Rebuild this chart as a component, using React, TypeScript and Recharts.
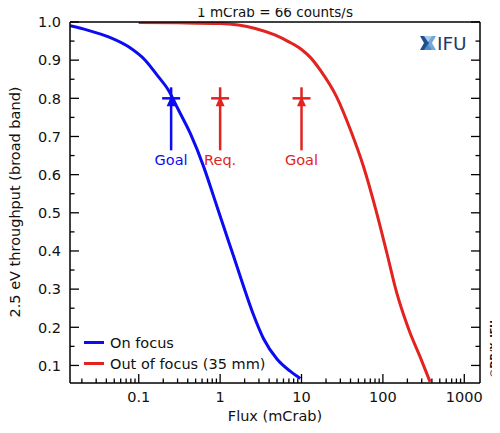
import React from "react";
import { ComposedChart, Line, XAxis, YAxis, ReferenceDot, Legend, Customized } from "recharts";

const onFocusFlux = [0.0143, 0.024, 0.0425, 0.075, 0.12, 0.175, 0.231, 0.307, 0.43, 0.627, 0.832, 1.104, 1.464, 1.942, 2.576, 3.418, 4.99, 7.26, 9.67];
const onFocusThroughput = [0.99, 0.978, 0.961, 0.935, 0.9, 0.856, 0.822, 0.77, 0.708, 0.621, 0.543, 0.464, 0.386, 0.307, 0.232, 0.17, 0.117, 0.085, 0.066];

const outFocusFlux = [0.1, 0.3, 1, 2.7, 4.7, 7, 10, 13, 17, 27, 40, 58, 84, 112, 148, 180, 216, 286, 380];
const outFocusThroughput = [0.999, 0.998, 0.996, 0.983, 0.966, 0.948, 0.928, 0.906, 0.874, 0.804, 0.717, 0.62, 0.499, 0.394, 0.29, 0.232, 0.185, 0.123, 0.057];

const markerFlux = [0.25, 1, 10];
const markerThroughput = [0.8, 0.8, 0.8];
const markerLabels = ["Goal", "Req.", "Goal"];
const markerSeries = ["on", "out", "out"];

const xMajorTicks = [0.1, 1, 10, 100, 1000];
const xMinorTicks = [
  0.02, 0.03, 0.04, 0.05, 0.06, 0.07, 0.08, 0.09,
  0.2, 0.3, 0.4, 0.5, 0.6, 0.7, 0.8, 0.9,
  2, 3, 4, 5, 6, 7, 8, 9,
  20, 30, 40, 50, 60, 70, 80, 90,
  200, 300, 400, 500, 600, 700, 800, 900,
];
const yMajorTicks = [0.1, 0.2, 0.3, 0.4, 0.5, 0.6, 0.7, 0.8, 0.9, 1.0];
const yMinorTicks = [0.15, 0.25, 0.35, 0.45, 0.55, 0.65, 0.75, 0.85, 0.95];

const titleText = "1 mCrab = 66 counts/s";
const xLabelText = "Flux (mCrab)";
const yLabelText = "2.5 eV throughput (broad band)";
const copyrightText = "\u00A9DB/X\u2013IFU";

const onFocusData = onFocusFlux.map((x, i) => ({ x, y: onFocusThroughput[i] }));
const outFocusData = outFocusFlux.map((x, i) => ({ x, y: outFocusThroughput[i] }));
const xAllTicks = [...xMajorTicks, ...xMinorTicks].sort((a, b) => a - b);
const yAllTicks = [...yMajorTicks, ...yMinorTicks].sort((a, b) => a - b);

const FONT = "'DejaVu Sans', sans-serif";
const BLUE = "#0c0cf2";
const RED = "#e2231f";
const COLORS: Record<string, string> = { on: BLUE, out: RED };
const xDomain = [0.0143, 1560];
const yDomain = [0.054, 1.0];
const axisLineStyle = { stroke: "#000", strokeWidth: 1.5 };

const BottomTick = (props: any) => {
  const { x, y, payload } = props;
  const major = xMajorTicks.includes(payload.value);
  return (
    <g>
      <line x1={x} x2={x} y1={y} y2={y - (major ? 9 : 4.5)} stroke="#000" strokeWidth={1.3} />
      {major && (
        <text x={x} y={y + 19} textAnchor="middle" fontSize={14.5} fontFamily={FONT} fill="#111">
          {String(payload.value)}
        </text>
      )}
    </g>
  );
};

const TopTick = (props: any) => {
  const { x, y, payload } = props;
  const major = xMajorTicks.includes(payload.value);
  return <line x1={x} x2={x} y1={y} y2={y + (major ? 9 : 4.5)} stroke="#000" strokeWidth={1.3} />;
};

const LeftTick = (props: any) => {
  const { x, y, payload } = props;
  const major = yMajorTicks.includes(payload.value);
  return (
    <g>
      <line x1={x} x2={x + (major ? 9 : 4.5)} y1={y} y2={y} stroke="#000" strokeWidth={1.3} />
      {major && (
        <text x={x - 9} y={y} dy="0.36em" textAnchor="end" fontSize={14.5} fontFamily={FONT} fill="#111">
          {payload.value.toFixed(1)}
        </text>
      )}
    </g>
  );
};

const RightTick = (props: any) => {
  const { x, y, payload } = props;
  const major = yMajorTicks.includes(payload.value);
  return <line x1={x} x2={x - (major ? 9 : 4.5)} y1={y} y2={y} stroke="#000" strokeWidth={1.3} />;
};

const makeMarker = (color: string, label: string) => (props: any) => {
  const { cx, cy } = props;
  return (
    <g>
      <line x1={cx - 9} x2={cx + 9} y1={cy} y2={cy} stroke={color} strokeWidth={2.5} />
      <line x1={cx} x2={cx} y1={cy - 11} y2={cy + 52} stroke={color} strokeWidth={2.5} />
      <polygon points={`${cx},${cy - 2} ${cx - 4.5},${cy + 8} ${cx + 4.5},${cy + 8}`} fill={color} />
      <text x={cx} y={cy + 67} textAnchor="middle" fontSize={14.5} fontFamily={FONT} fill={color}>
        {label}
      </text>
    </g>
  );
};

const Decorations = () => (
  <g>
    <text x={275} y={17} textAnchor="middle" fontSize={13.5} fontFamily={FONT} fill="#111">
      {titleText}
    </text>
    <text x={275} y={421} textAnchor="middle" fontSize={14.5} fontFamily={FONT} fill="#111">
      {xLabelText}
    </text>
    <text
      x={0}
      y={0}
      transform="translate(20,202) rotate(-90)"
      textAnchor="middle"
      fontSize={14.5}
      fontFamily={FONT}
      fill="#111"
    >
      {yLabelText}
    </text>
    <text
      x={0}
      y={0}
      transform="translate(496.5,349) rotate(-90)"
      textAnchor="middle"
      fontSize={9.5}
      fontWeight="bold"
      fontFamily={FONT}
      fill="#111"
    >
      {copyrightText}
    </text>
    <g>
      <polygon points="420,36 427,36 429,43 427,50 420,50 424,43" fill="#1f4f8e" />
      <polygon points="436,36 429,36 429,43 429,50 436,50 432,43" fill="#6fa8dc" />
      <polygon points="424,36 432,36 428,42" fill="#a9cdee" />
      <polygon points="424,50 432,50 428,44" fill="#4f8cc9" />
      <text x={437} y={49.5} fontSize={18.5} fontFamily={FONT} fill="#1c3b6d">
        IFU
      </text>
    </g>
  </g>
);

const LegendContent = (props: any) => {
  const { payload } = props;
  return (
    <div style={{ fontFamily: FONT, fontSize: 14.5, color: "#111" }}>
      {(payload || []).map((item: any) => (
        <div key={item.value} style={{ display: "flex", alignItems: "center", height: 21 }}>
          <svg width={26} height={21} style={{ display: "block" }}>
            <line x1={0} x2={20} y1={10.5} y2={10.5} stroke={item.color} strokeWidth={3} />
          </svg>
          <span style={{ whiteSpace: "nowrap" }}>{item.value}</span>
        </div>
      ))}
    </div>
  );
};

export default function App() {
  return (
    <div style={{ margin: "-8px 0 0 -8px", width: 500, height: 433, background: "#fff" }}>
      <ComposedChart width={500} height={433} margin={{ top: 21, right: 19, bottom: 49, left: 69 }}>
        <XAxis
          dataKey="x"
          type="number"
          scale="log"
          domain={xDomain}
          allowDataOverflow
          ticks={xAllTicks}
          interval={0}
          height={1}
          tickSize={0}
          tickMargin={0}
          tickLine={false}
          axisLine={axisLineStyle}
          tick={BottomTick}
        />
        <XAxis
          xAxisId="top"
          orientation="top"
          type="number"
          scale="log"
          domain={xDomain}
          allowDataOverflow
          ticks={xAllTicks}
          interval={0}
          height={1}
          tickSize={0}
          tickMargin={0}
          tickLine={false}
          axisLine={axisLineStyle}
          tick={TopTick}
        />
        <YAxis
          type="number"
          domain={yDomain}
          allowDataOverflow
          ticks={yAllTicks}
          interval={0}
          width={1}
          tickSize={0}
          tickMargin={0}
          tickLine={false}
          axisLine={axisLineStyle}
          tick={LeftTick}
        />
        <YAxis
          yAxisId="right"
          orientation="right"
          type="number"
          domain={yDomain}
          allowDataOverflow
          ticks={yAllTicks}
          interval={0}
          width={1}
          tickSize={0}
          tickMargin={0}
          tickLine={false}
          axisLine={axisLineStyle}
          tick={RightTick}
        />
        <Line
          data={onFocusData}
          dataKey="y"
          name="On focus"
          type="monotone"
          stroke={BLUE}
          strokeWidth={3}
          dot={false}
          isAnimationActive={false}
        />
        <Line
          data={outFocusData}
          dataKey="y"
          name="Out of focus (35 mm)"
          type="monotone"
          stroke={RED}
          strokeWidth={3}
          dot={false}
          isAnimationActive={false}
        />
        {markerFlux.map((fx, i) => (
          <ReferenceDot
            key={i}
            x={fx}
            y={markerThroughput[i]}
            ifOverflow="visible"
            shape={makeMarker(COLORS[markerSeries[i]], markerLabels[i])}
          />
        ))}
        <Legend
          layout="vertical"
          align="center"
          verticalAlign="middle"
          wrapperStyle={{ left: 84, top: 332, width: "auto" }}
          content={LegendContent}
        />
        <Customized component={Decorations} />
      </ComposedChart>
    </div>
  );
}
